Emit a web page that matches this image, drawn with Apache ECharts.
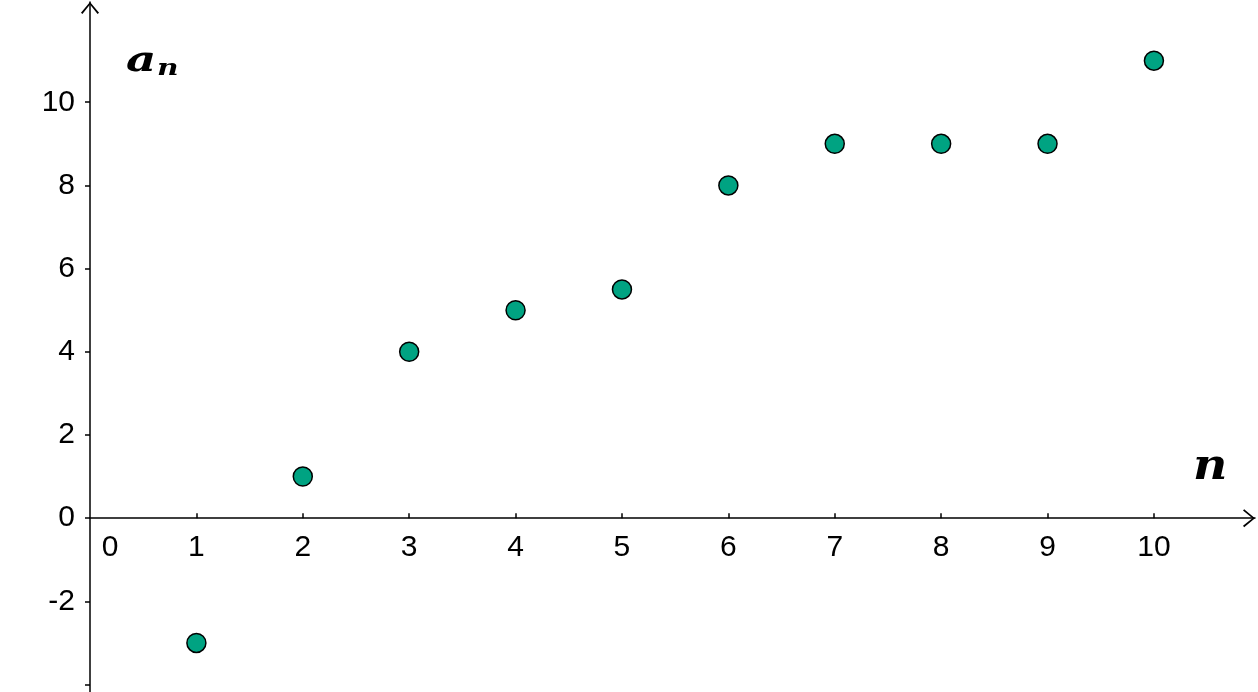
<!DOCTYPE html>
<html>
<head>
<meta charset="utf-8">
<script src="https://cdn.jsdelivr.net/npm/echarts@6/dist/echarts.min.js"></script>
<style>
  html, body { margin: 0; padding: 0; background: #fff; }
  #chart { width: 1258px; height: 692px; }
</style>
</head>
<body>
<div id="chart"></div>
<script>
// sequence a_n, n = 1..10
var nValues = [1, 2, 3, 4, 5, 6, 7, 8, 9, 10];
var aValues = [-3, 1, 4, 5, 5.5, 8, 9, 9, 9, 11];

var xTicks = [1, 2, 3, 4, 5, 6, 7, 8, 9, 10];
var xLabels = [0, 1, 2, 3, 4, 5, 6, 7, 8, 9, 10];
var yTicks = [-4, -2, 0, 2, 4, 6, 8, 10];
var yLabels = [-2, 0, 2, 4, 6, 8, 10];

var yMin = -4.18, yMax = 12.41;

var chevron = 'path://M0,12 L10,0 L20,12 L18.4,13.3 L10,2.8 L1.6,13.3 Z';
var labelFont = "'Liberation Sans', Arial, sans-serif";
var mathFont = "'DejaVu Serif', 'Liberation Serif', serif";

var points = nValues.map(function (n, i) { return [n, aValues[i]]; });

var gridTop = 2, gridBottom = 0, chartH = 692;
// x axis sits on a_n = 0: shift it up from the grid bottom
var zeroOffset = -((chartH - gridTop - gridBottom) * (0 - yMin) / (yMax - yMin));

var myChart = echarts.init(document.getElementById('chart'));
myChart.setOption({
  animation: false,
  backgroundColor: '#fff',
  grid: { left: 90, right: 3, top: gridTop, bottom: gridBottom, containLabel: false, outerBoundsMode: 'none' },
  xAxis: {
    type: 'value',
    min: 0,
    max: 10.95,
    position: 'bottom',
    offset: zeroOffset,
    axisLine: {
      onZero: false,
      symbol: ['none', chevron],
      symbolSize: [20, 12],
      symbolOffset: [0, -6],
      lineStyle: { color: '#000', width: 1.5 }
    },
    axisTick: { show: true, inside: true, length: 5, customValues: xTicks, lineStyle: { color: '#000', width: 1.5 } },
    axisLabel: {
      customValues: xLabels,
      showMinLabel: true,
      margin: 15,
      color: '#000',
      fontSize: 30,
      fontFamily: labelFont,
      formatter: function (v) { return v === 0 ? '{o|0}' : String(v); },
      rich: { o: { fontSize: 30, fontFamily: labelFont, color: '#000', padding: [0, 0, 0, 40] } }
    },
    splitLine: { show: false }
  },
  yAxis: {
    type: 'value',
    min: yMin,
    max: yMax,
    axisLine: {
      onZero: false,
      symbol: ['none', chevron],
      symbolSize: [20, 12],
      symbolOffset: [0, -6],
      lineStyle: { color: '#000', width: 1.5 }
    },
    axisTick: { show: true, inside: false, length: 5, customValues: yTicks, lineStyle: { color: '#000', width: 1.5 } },
    axisLabel: {
      customValues: yLabels,
      margin: 15,
      color: '#000',
      fontSize: 30,
      fontFamily: labelFont
    },
    splitLine: { show: false }
  },
  graphic: [
    { type: 'text', x: 126, y: 62, scaleX: 1.3, style: { text: 'a', font: 'italic bold 36px ' + mathFont, fill: '#000', verticalAlign: 'middle' } },
    { type: 'text', x: 157, y: 69, scaleX: 1.35, style: { text: 'n', font: 'italic bold 22px ' + mathFont, fill: '#000', verticalAlign: 'middle' } },
    { type: 'text', x: 1193, y: 468, scaleX: 1.1, style: { text: 'n', font: 'italic bold 43px ' + mathFont, fill: '#000', verticalAlign: 'middle' } }
  ],
  series: [{
    type: 'scatter',
    data: points,
    symbol: 'circle',
    symbolSize: 19,
    itemStyle: { color: '#00a382', borderColor: '#000', borderWidth: 1.5, opacity: 1 }
  }]
});
</script>
</body>
</html>
